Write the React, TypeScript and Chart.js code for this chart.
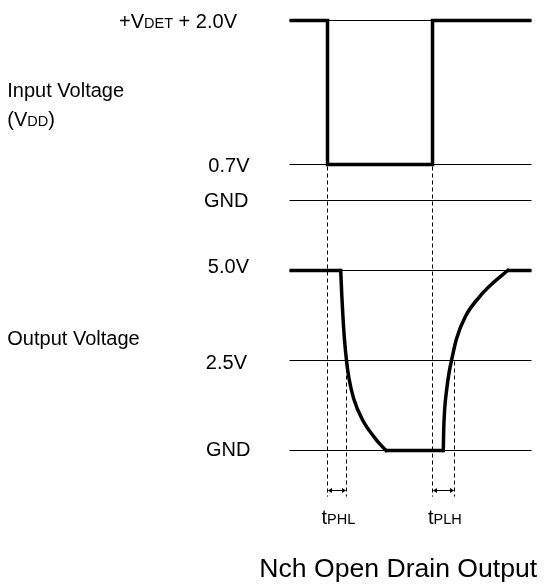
import { useEffect, useRef } from 'react';
import { Chart, registerables } from 'chart.js';

Chart.register(...registerables);

// ---------- data (time in arbitrary units across the diagram, voltages per panel) ----------
const timeStart = 0;
const timeEnd = 100;

// input panel (VDD)
const inputLevelValues = [3.5, 0.7, 0];
const inputLevelLabels = ['+V_{DET} + 2.0V', '0.7V', 'GND'];
const inputWaveT = [0, 15.7, 15.7, 59.1, 59.1, 100];
const inputWaveV = [3.5, 3.5, 0.7, 0.7, 3.5, 3.5];

// output panel
const outputLevelValues = [5.0, 2.5, 0];
const outputLevelLabels = ['5.0V', '2.5V', 'GND'];
const outputHighBeforeT = [0, 21.16];
const outputHighBeforeV = [5.0, 5.0];
const outputFallT = [21.16, 21.61, 22.07, 22.69, 23.55, 24.59, 26.57, 30.08, 35.95, 39.88];
const outputFallV = [5.0, 4.31, 3.73, 3.11, 2.5, 2.0, 1.43, 0.86, 0.29, 0];
const outputLowT = [39.88, 63.55];
const outputLowV = [0, 0];
const outputRiseT = [63.55, 63.72, 64.13, 65.0, 65.91, 66.94, 69.05, 72.73, 78.51, 83.68, 90.17];
const outputRiseV = [0, 0.57, 1.15, 1.72, 2.15, 2.5, 3.11, 3.73, 4.27, 4.63, 5.0];
const outputHighAfterT = [90.17, 100];
const outputHighAfterV = [5.0, 5.0];

// timing markers
const inputEdgeTimes = [15.7, 59.1];
const outputHalfTimes = [23.55, 68.2];
const delayLabels = ['t_{PHL}', 't_{PLH}'];
const markerBottomV = -1.28;
const arrowV = -1.1;

const panelTitles = ['Input Voltage', '(V_{DD})', 'Output Voltage'];
const chartTitle = 'Nch Open Drain Output';

// ---------- layout / style ----------
const W = 557;
const H = 585;
const FONT = '"Liberation Sans", Arial, Helvetica, sans-serif';
const MAIN_PX = 20;
const SUB_PX = 14.5;

const pts = (t: number[], v: number[]) => t.map((x, i) => ({ x, y: v[i] }));

type Part = { text: string; sub: boolean };
function parseRich(s: string): Part[] {
  const out: Part[] = [];
  const re = /_\{([^}]*)\}/g;
  let last = 0;
  let m: RegExpExecArray | null;
  while ((m = re.exec(s))) {
    if (m.index > last) out.push({ text: s.slice(last, m.index), sub: false });
    out.push({ text: m[1], sub: true });
    last = m.index + m[0].length;
  }
  if (last < s.length) out.push({ text: s.slice(last), sub: false });
  return out;
}

function drawRich(
  ctx: CanvasRenderingContext2D,
  s: string,
  x: number,
  y: number,
  align: 'left' | 'right' | 'center',
  size = MAIN_PX,
  subSize = SUB_PX
) {
  const parts = parseRich(s);
  const widths = parts.map((p) => {
    ctx.font = `${p.sub ? subSize : size}px ${FONT}`;
    return ctx.measureText(p.text).width;
  });
  const total = widths.reduce((a, b) => a + b, 0);
  let cx = align === 'left' ? x : align === 'right' ? x - total : x - total / 2;
  ctx.textAlign = 'left';
  ctx.textBaseline = 'alphabetic';
  parts.forEach((p, i) => {
    ctx.font = `${p.sub ? subSize : size}px ${FONT}`;
    ctx.fillText(p.text, cx, y);
    cx += widths[i];
  });
}

const inputLabelGap = [52.5, 40, 41];
const inputLabelDy = [7.5, 7.2, 6.2];
const outputLabelGap = [40.5, 42.5, 39];
const outputLabelDy = [2.2, 8.8, 5.5];

const diagramPlugin = {
  id: 'diagram',
  afterDatasetsDraw(chart: any) {
    const ctx: CanvasRenderingContext2D = chart.ctx;
    const xs = chart.scales.x;
    const yi = chart.scales.yIn;
    const yo = chart.scales.yOut;
    ctx.save();
    ctx.fillStyle = '#000';
    ctx.strokeStyle = '#000';

    // dashed timing markers
    ctx.lineWidth = 1;
    ctx.setLineDash([4, 3]);
    const bottom = yo.getPixelForValue(markerBottomV);
    inputEdgeTimes.forEach((t) => {
      const px = Math.round(xs.getPixelForValue(t) - 0.5) + 0.5;
      ctx.beginPath();
      ctx.moveTo(px, yi.getPixelForValue(0.7) + 2);
      ctx.lineTo(px, bottom);
      ctx.stroke();
    });
    outputHalfTimes.forEach((t) => {
      const px = Math.round(xs.getPixelForValue(t) - 0.5) + 0.5;
      ctx.beginPath();
      ctx.moveTo(px, yo.getPixelForValue(2.5) + 1);
      ctx.lineTo(px, bottom);
      ctx.stroke();
    });
    ctx.setLineDash([]);

    // double arrows + delay labels
    const ay = Math.round(yo.getPixelForValue(arrowV)) + 0.5;
    inputEdgeTimes.forEach((t, i) => {
      const x1 = Math.round(xs.getPixelForValue(t) - 0.5) + 0.5;
      const x2 = Math.round(xs.getPixelForValue(outputHalfTimes[i]) - 0.5) + 0.5;
      ctx.beginPath();
      ctx.moveTo(x1 + 1, ay);
      ctx.lineTo(x2 - 1, ay);
      ctx.stroke();
      const hl = 4;
      const hh = 2.5;
      ctx.beginPath();
      ctx.moveTo(x1 + 0.5, ay);
      ctx.lineTo(x1 + 0.5 + hl, ay - hh);
      ctx.lineTo(x1 + 0.5 + hl, ay + hh);
      ctx.closePath();
      ctx.fill();
      ctx.beginPath();
      ctx.moveTo(x2 - 0.5, ay);
      ctx.lineTo(x2 - 0.5 - hl, ay - hh);
      ctx.lineTo(x2 - 0.5 - hl, ay + hh);
      ctx.closePath();
      ctx.fill();
      drawRich(ctx, delayLabels[i], (x1 + x2) / 2 + 1.4, ay + 33, 'center');
    });

    // level labels
    const lineStart = xs.getPixelForValue(timeStart);
    inputLevelValues.forEach((v, i) => {
      drawRich(ctx, inputLevelLabels[i], lineStart - inputLabelGap[i], yi.getPixelForValue(v) + inputLabelDy[i], 'right');
    });
    outputLevelValues.forEach((v, i) => {
      drawRich(ctx, outputLevelLabels[i], lineStart - outputLabelGap[i], yo.getPixelForValue(v) + outputLabelDy[i], 'right');
    });

    // panel titles
    drawRich(ctx, panelTitles[0], 7.3, 97, 'left');
    drawRich(ctx, panelTitles[1], 7.3, 126, 'left');
    drawRich(ctx, panelTitles[2], 7.3, 345, 'left');

    // chart title
    drawRich(ctx, chartTitle, 259.3, 576.7, 'left', 26.6);
    ctx.restore();
  },
};

// scales: x pixel = 289.5 + 2.42 * t ; yIn: 51.4286 px/V, GND at 200.5 ; yOut: 36 px/V, GND at 450.5
const X_PER = 2.42;
const X0 = 289.5;
const IN_PER = 360 / 7;
const IN_GND = 200.5;
const OUT_PER = 36;
const OUT_GND = 450.5;
const THICK = 3.5;

const thin = (data: { x: number; y: number }[], axis: string) => ({
  data,
  yAxisID: axis,
  showLine: true,
  borderColor: '#000',
  borderWidth: 1,
  pointRadius: 0,
  tension: 0,
  borderCapStyle: 'butt' as const,
});
const thick = (data: { x: number; y: number }[], axis: string, smooth = false, cap: 'butt' | 'square' = 'butt') => ({
  data,
  yAxisID: axis,
  showLine: true,
  borderColor: '#000',
  borderWidth: THICK,
  pointRadius: 0,
  tension: smooth ? 0.4 : 0,
  cubicInterpolationMode: smooth ? ('monotone' as const) : ('default' as const),
  borderCapStyle: cap,
  borderJoinStyle: 'miter' as const,
});

export default function App() {
  const ref = useRef<HTMLCanvasElement>(null);
  useEffect(() => {
    const canvas = ref.current;
    if (!canvas) return;
    const datasets: any[] = [];
    inputLevelValues.forEach((v) =>
      datasets.push(thin(pts([timeStart, timeEnd], [v, v]), 'yIn'))
    );
    outputLevelValues.forEach((v) =>
      datasets.push(thin(pts([timeStart, timeEnd], [v, v]), 'yOut'))
    );
    datasets.push(thick(pts(inputWaveT, inputWaveV), 'yIn'));
    datasets.push(thick(pts(outputHighBeforeT, outputHighBeforeV), 'yOut'));
    datasets.push(thick(pts(outputFallT, outputFallV), 'yOut', true, 'square'));
    datasets.push(thick(pts(outputLowT, outputLowV), 'yOut'));
    datasets.push(thick(pts(outputRiseT, outputRiseV), 'yOut', true, 'square'));
    datasets.push(thick(pts(outputHighAfterT, outputHighAfterV), 'yOut'));

    const chart = new Chart(canvas, {
      type: 'scatter',
      data: { datasets },
      options: {
        animation: false,
        responsive: false,
        maintainAspectRatio: false,
        devicePixelRatio: 1,
        events: [],
        layout: { padding: 0 },
        plugins: { legend: { display: false }, tooltip: { enabled: false }, title: { display: false } },
        scales: {
          x: { type: 'linear', display: false, min: -X0 / X_PER, max: (W - X0) / X_PER },
          yIn: {
            type: 'linear',
            axis: 'y',
            display: false,
            min: (IN_GND - H) / IN_PER,
            max: IN_GND / IN_PER,
          },
          yOut: {
            type: 'linear',
            axis: 'y',
            display: false,
            min: (OUT_GND - H) / OUT_PER,
            max: OUT_GND / OUT_PER,
          },
        },
      } as any,
      plugins: [diagramPlugin],
    });
    return () => chart.destroy();
  }, []);
  return (
    <div style={{ position: 'fixed', left: 0, top: 0, width: W, height: H, background: '#fff' }}>
      <canvas ref={ref} width={W} height={H} style={{ display: 'block', width: W, height: H }} />
    </div>
  );
}
